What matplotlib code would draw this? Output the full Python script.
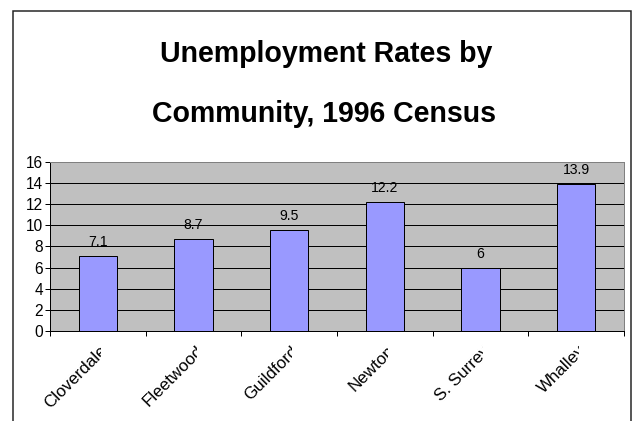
import matplotlib
matplotlib.use("Agg")
import matplotlib.pyplot as plt
import matplotlib.transforms as mtransforms
from matplotlib.patches import Rectangle

communities = ["Cloverdale", "Fleetwood", "Guildford", "Newton", "S. Surrey", "Whalley"]
rates = [7.1, 8.7, 9.5, 12.2, 6, 13.9]
y_ticks = [0, 2, 4, 6, 8, 10, 12, 14, 16]
title_lines = ["Unemployment Rates by", "Community, 1996 Census"]

plt.rcParams["font.family"] = ["Liberation Sans", "DejaVu Sans"]

# dpi 72 so that point sizes equal pixels
fig = plt.figure(figsize=(634 / 72, 421 / 72), dpi=72)
fig.patch.set_facecolor("white")

# chart frame running off the bottom edge
frame = Rectangle((13 / 634, -0.1), (631 - 13) / 634, 1.1 - 11 / 421,
                  transform=fig.transFigure, fill=False, edgecolor="#222222",
                  linewidth=1.5)
fig.patches.append(frame)

title_font = dict(fontweight="bold", fontsize=28.5, ha="center", va="baseline")
fig.text(326.5 / 634, 1 - 61.7 / 421, title_lines[0], **title_font)
fig.text(324 / 634, 1 - 121.7 / 421, title_lines[1], **title_font)

ax = fig.add_axes([50 / 634, 1 - 331 / 421, 574 / 634, (331 - 161.7) / 421])
ax.set_facecolor("#C0C0C0")

x = list(range(len(communities)))
bars = ax.bar(x, rates, width=0.4, color="#9999FF", edgecolor="black",
              linewidth=1, zorder=3)

for xi, r in zip(x, rates):
    ax.annotate(f"{r:g}", (xi, r), xytext=(0, 10), textcoords="offset points",
                ha="center", va="baseline", fontsize=14, zorder=4)

ax.set_xlim(-0.5, len(communities) - 0.5)
ax.set_ylim(0, 16)
ax.set_yticks(y_ticks)
ax.tick_params(axis="y", direction="out", length=5, width=1, pad=2,
               labelsize=15.5, color="black")
ax.yaxis.grid(True, color="black", linewidth=1, zorder=1)
ax.set_axisbelow(True)

# ticks sit between categories; names are drawn separately and clipped
ax.set_xticks([i - 0.5 for i in range(len(communities) + 1)])
ax.set_xticklabels([])
ax.tick_params(axis="x", direction="out", length=5, width=1, color="black")

for side in ("top", "right"):
    ax.spines[side].set_color("#808080")
    ax.spines[side].set_linewidth(1)
for side in ("left", "bottom"):
    ax.spines[side].set_color("black")
    ax.spines[side].set_linewidth(1)

blend = mtransforms.blended_transform_factory(ax.transData, ax.transAxes)
label_trans = mtransforms.offset_copy(blend, fig=fig, x=2, y=-12, units="points")
clip_trans = mtransforms.offset_copy(blend, fig=fig, x=3, y=0, units="points")
for xi, name in zip(x, communities):
    t = ax.text(xi, 0, name, transform=label_trans, rotation=45,
                rotation_mode="anchor", ha="right", va="top",
                fontsize=17, clip_on=True)
    t.set_clip_path(None)
    t.set_clip_box(mtransforms.TransformedBbox(
        mtransforms.Bbox.from_extents(xi - 3, -2, xi, 0), clip_trans))

fig.savefig("out.png", dpi=72)
